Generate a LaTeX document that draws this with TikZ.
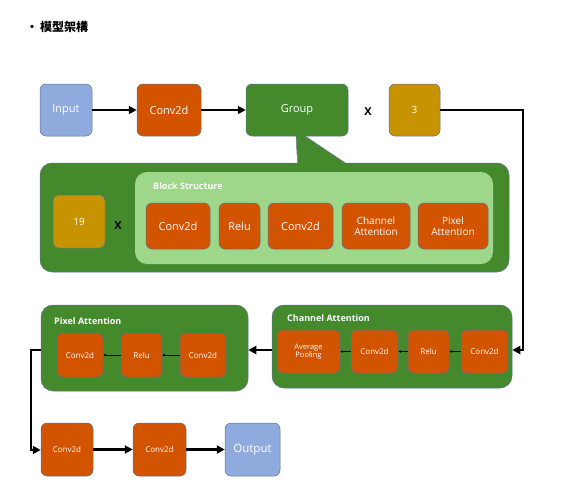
\documentclass[tikz,border=0pt]{standalone}
\usepackage{fontspec}
\setmainfont{Open Sans}
\newfontfamily\cjk{Noto Sans CJK TC}
\usetikzlibrary{arrows.meta}
\definecolor{cblue}{HTML}{8FAADC}
\definecolor{corange}{HTML}{D35400}
\definecolor{cgreen}{HTML}{448A2D}
\definecolor{clight}{HTML}{9ED68A}
\definecolor{cgold}{HTML}{C79300}
\definecolor{cedge}{HTML}{5B7290}
\tikzset{
  box/.style={draw=cedge, line width=0.5pt, rounded corners=6pt, text=white, align=center, inner sep=0pt, font=\fontsize{11}{12}\selectfont},
  bluebox/.style={box, fill=cblue},
  orbox/.style={box, fill=corange},
  smallor/.style={box, fill=corange, rounded corners=5pt, font=\fontsize{8}{9.5}\selectfont},
  goldbox/.style={box, fill=cgold, font=\fontsize{10}{12}\selectfont},
  greenbox/.style={box, fill=cgreen},
  panel/.style={draw=cedge, line width=0.5pt, fill=cgreen, rounded corners=12pt, inner sep=0pt},
  lightpanel/.style={draw=none, fill=clight, rounded corners=12pt, inner sep=0pt},
  plabel/.style={text=white, anchor=west, inner sep=0pt, font=\fontsize{9}{11}\selectfont\bfseries},
  times/.style={inner sep=0pt, font=\fontsize{11}{12}\selectfont\bfseries},
  thick arrow/.style={line width=2.6pt, -{Triangle[length=8pt,width=8pt]}},
  thin arrow/.style={line width=0.6pt, -{Latex[length=2.5pt,width=2.5pt]}},
}
\begin{document}
\begin{tikzpicture}[x=1pt,y=-1pt]
\useasboundingbox (0,0) rectangle (572,503);
% title
\node[anchor=west, inner sep=0pt, font=\cjk\bfseries\fontsize{12}{13}\selectfont] (title) at (26,27) {•\,模型架構};
% top row
\node[bluebox, minimum width=52pt, minimum height=52pt] (input) at (66,110) {Input};
\node[orbox, minimum width=64pt, minimum height=52pt] (conv1) at (169,110) {Conv2d};
\node[greenbox, minimum width=102pt, minimum height=52pt] (group) at (297,110) {Group};
\node[times] (x1) at (368,112) {X};
\node[goldbox, minimum width=51pt, minimum height=52pt] (three) at (414.5,110) {3};
% big panel with callout
\node[panel, minimum width=469pt, minimum height=109pt] (big) at (274.5,217.5) {};
\fill[cgreen] (296,135) -- (298,166) -- (350,166) -- (304,135) -- cycle;
\draw[cedge, line width=0.5pt] (296,136.5) -- (297.5,163);
\draw[cedge, line width=0.5pt] (304,136.5) -- (345,163);
\node[lightpanel, minimum width=358pt, minimum height=92pt] (light) at (314,218) {};
\node[plabel] (bslabel) at (153,186) {Block Structure};
\node[goldbox, minimum width=52pt, minimum height=53pt] (nineteen) at (79,221.5) {19};
\node[times] (x2) at (118,226) {X};
\node[orbox, minimum width=64pt, minimum height=46pt] (b1) at (178,226) {Conv2d};
\node[orbox, minimum width=41pt, minimum height=46pt] (b2) at (239.5,226) {Relu};
\node[orbox, minimum width=65pt, minimum height=46pt] (b3) at (300.5,226) {Conv2d};
\node[orbox, minimum width=68pt, minimum height=46pt, font=\fontsize{10}{11}\selectfont] (b4) at (376,226) {Channel\\Attention};
\node[orbox, minimum width=70pt, minimum height=46pt, font=\fontsize{10}{11}\selectfont] (b5) at (453,226) {Pixel\\Attention};
% channel attention panel
\node[panel, minimum width=240pt, minimum height=83pt] (cpanel) at (392,346.5) {};
\node[plabel] (calabel) at (287,318) {Channel Attention};
\node[smallor, minimum width=63pt, minimum height=43pt, font=\fontsize{7.5}{8.5}\selectfont] (ca1) at (308.5,351.5) {Average\\Pooling};
\node[smallor, minimum width=47pt, minimum height=43pt] (ca2) at (374.5,351.5) {Conv2d};
\node[smallor, minimum width=41pt, minimum height=43pt] (ca3) at (428.5,351.5) {Relu};
\node[smallor, minimum width=47pt, minimum height=43pt] (ca4) at (484.5,351.5) {Conv2d};
\draw[thin arrow] (ca4) -- (ca3);
\draw[thin arrow] (ca3) -- (ca2);
\draw[thin arrow] (ca2) -- (ca1);
% pixel attention panel
\node[panel, minimum width=207pt, minimum height=86pt] (ppanel) at (144.5,348) {};
\node[plabel] (palabel) at (54,321) {Pixel Attention};
\node[smallor, minimum width=46pt, minimum height=44pt] (pa1) at (80,355) {Conv2d};
\node[smallor, minimum width=41pt, minimum height=44pt] (pa2) at (141.5,355) {Relu};
\node[smallor, minimum width=46pt, minimum height=44pt] (pa3) at (203,355) {Conv2d};
\draw[thin arrow] (pa3) -- (pa2);
\draw[thin arrow] (pa2) -- (pa1);
% bottom row
\node[smallor, rounded corners=6pt, minimum width=52pt, minimum height=53pt] (c1) at (67,449.5) {Conv2d};
\node[smallor, rounded corners=6pt, minimum width=53pt, minimum height=53pt] (c2) at (159.5,449.5) {Conv2d};
\node[bluebox, minimum width=55pt, minimum height=53pt, font=\fontsize{11.5}{12}\selectfont] (out) at (252.5,449.5) {Output};
% connectors
\draw[thick arrow] (input) -- (conv1);
\draw[thick arrow] (conv1) -- (group);
\coordinate (r1) at (523,350);
\draw[thick arrow] (three.east) -| (r1) -- (cpanel.east |- r1);
\coordinate (r2) at (259,350);
\draw[thick arrow] (cpanel.west |- r2) -- (ppanel.east |- r2);
\coordinate (l1) at (31,350);
\coordinate (l2) at (31,450);
\draw[thick arrow] (ppanel.west |- l1) -- (l1) -- (l2) -- (c1.west |- l2);
\draw[thick arrow] (c1) -- (c2);
\draw[thick arrow] (c2) -- (out);
\end{tikzpicture}
\end{document}
